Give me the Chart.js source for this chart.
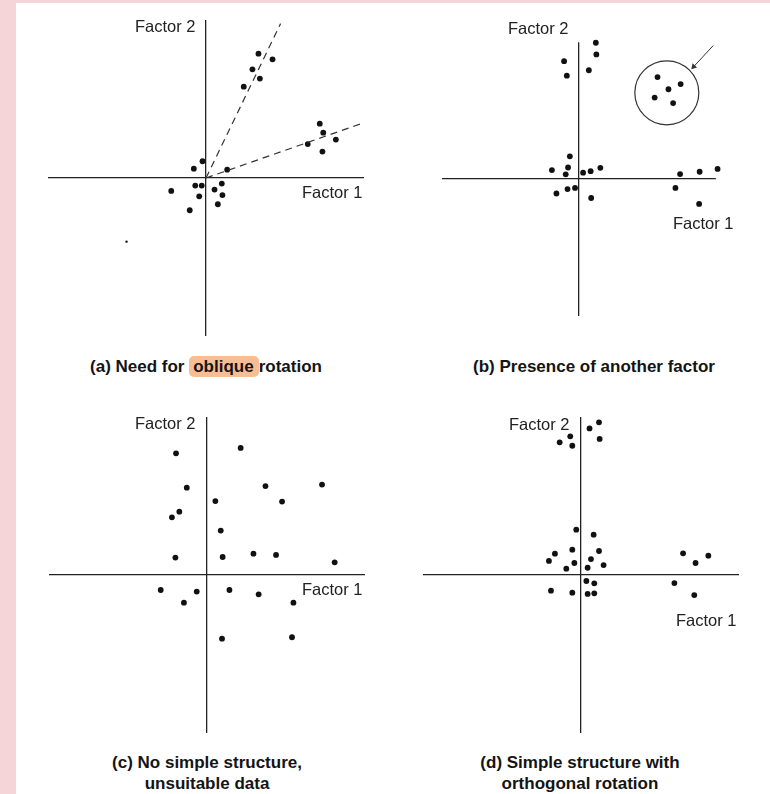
<!DOCTYPE html>
<html>
<head>
<meta charset="utf-8">
<script src="https://cdn.jsdelivr.net/npm/chart.js@4/dist/chart.umd.min.js"></script>
<style>
  body { margin: 0; width: 770px; height: 794px; background: #f5d5d8; position: relative; overflow: hidden; }
  #sheet { position: absolute; left: 16px; top: 3px; right: 0; bottom: 0; background: #fff; }
  canvas { position: absolute; }
  .lbl { position: absolute; font: 16.5px "Liberation Sans", Arial, sans-serif; color: #222; line-height: 18px; white-space: nowrap; }
  .cap { position: absolute; width: 300px; text-align: center; font: bold 17px "Liberation Sans", Arial, sans-serif; color: #141414; line-height: 21px; white-space: nowrap; }
  .hl { background: #f7be96; border-radius: 5px; padding: 1px 5px 1px 4px; }
</style>
</head>
<body>
<div id="sheet"></div>

<canvas id="chartA" width="340" height="340" style="left:36px;top:8px"></canvas>
<canvas id="chartB" width="340" height="340" style="left:409px;top:9px"></canvas>
<canvas id="chartC" width="340" height="340" style="left:37px;top:405px"></canvas>
<canvas id="chartD" width="340" height="340" style="left:411px;top:405px"></canvas>

<div class="lbl" style="left:135px;top:17px">Factor 2</div>
<div class="lbl" style="left:302px;top:183px">Factor 1</div>
<div class="lbl" style="left:508px;top:19px">Factor 2</div>
<div class="lbl" style="left:673px;top:214px">Factor 1</div>
<div class="lbl" style="left:135px;top:414px">Factor 2</div>
<div class="lbl" style="left:302px;top:580px">Factor 1</div>
<div class="lbl" style="left:509px;top:415px">Factor 2</div>
<div class="lbl" style="left:676px;top:611px">Factor 1</div>

<div class="cap" style="left:56px;top:356px">(a) Need for <span class="hl">oblique</span>rotation</div>
<div class="cap" style="left:444px;top:356px">(b) Presence of another factor</div>
<div class="cap" style="left:57px;top:752px">(c) No simple structure,<br>unsuitable data</div>
<div class="cap" style="left:430px;top:752px">(d) Simple structure with<br>orthogonal rotation</div>

<script>
// valeurs, axes de -10 a 10 (Factor 1 = x, Factor 2 = y)

// (a) besoin d'une rotation oblique
const aCluster1 = [[3.32,7.87],[4.21,7.51],[2.94,6.88],[3.41,6.29],[2.39,5.78]];
const aCluster2 = [[7.20,3.44],[7.42,2.87],[8.22,2.43],[6.44,2.15],[7.37,1.67]];
const aCentre = [[-0.22,1.06],[-0.77,0.59],[1.34,0.53],[-0.68,-0.48],[-0.27,-0.48],[1.00,-0.35],
                 [-2.20,-0.82],[0.54,-0.73],[-0.43,-1.16],[1.04,-1.08],[0.75,-1.66],[-1.03,-2.04]];
const aSpeck = [[-5.03,-4.03]];
const aObliqueAxis1 = [[0,0],[4.72,9.77]];
const aObliqueAxis2 = [[0,0],[10.03,3.51]];

// (b) presence d'un autre facteur
const bFactor2 = [[1.23,9.96],[1.27,9.11],[-1.09,8.61],[0.72,7.95],[-0.89,7.55]];
const bOther = [[5.74,7.45],[7.43,6.94],[6.54,6.56],[5.53,5.95],[6.88,5.55]];
const bCentre = [[-0.67,1.66],[-1.98,0.65],[-0.80,0.84],[-0.97,0.34],[0.30,0.46],[0.85,0.57],
                 [1.56,0.82],[-1.65,-1.06],[-0.84,-0.74],[-0.29,-0.65],[0.89,-1.39]];
const bFactor1 = [[7.39,0.36],[8.82,0.53],[10.13,0.74],[7.05,-0.65],[8.78,-1.82]];
const bCircle = [[6.42,6.30]];
const bArrow = [[9.81,9.75],[8.38,8.21]];

// (c) pas de structure simple
const cPoints = [[-1.96,7.70],[2.13,8.04],[-1.28,5.53],[3.70,5.63],[7.28,5.72],[0.53,4.68],[4.75,4.65],
                 [-1.75,4.01],[-2.22,3.65],[0.87,2.81],[-2.00,1.10],[0.99,1.14],[2.94,1.35],[4.37,1.27],
                 [8.08,0.80],[-2.93,-0.95],[-0.65,-1.05],[1.42,-0.95],[-1.46,-1.75],[3.27,-1.22],
                 [5.47,-1.75],[0.95,-4.03],[5.38,-3.94]];

// (d) structure simple, rotation orthogonale
const dFactor2 = [[1.14,9.66],[0.54,9.28],[-0.68,8.78],[1.18,8.61],[-1.35,8.40],[-0.55,8.18]];
const dCentre = [[-0.30,2.87],[0.80,2.55],[-0.55,1.60],[1.14,1.52],[-1.65,1.35],[0.63,1.01],
                 [-2.03,0.89],[-0.42,0.76],[1.43,0.63],[-0.93,0.40],[0.42,0.46],[0.34,-0.38],
                 [0.84,-0.53],[-1.90,-0.99],[-0.55,-1.12],[0.42,-1.20],[0.84,-1.16]];
const dFactor1 = [[6.46,1.37],[8.06,1.22],[7.25,0.76],[5.91,-0.51],[7.17,-1.27]];

const axisMin = -10;
const axisMax = 10;
const axisStep = 10;

const toXY = arr => arr.map(p => ({ x: p[0], y: p[1] }));

const dots = (arr, r) => ({
  type: 'scatter',
  data: toXY(arr),
  backgroundColor: '#111',
  borderWidth: 0,
  pointRadius: r || 2.9,
  pointHoverRadius: r || 2.9
});

const dashed = arr => ({
  type: 'line',
  data: toXY(arr),
  borderColor: '#333',
  borderWidth: 1.2,
  borderDash: [7, 5],
  pointRadius: 0,
  fill: false,
  tension: 0
});

const axisOpts = () => ({
  type: 'linear',
  min: axisMin,
  max: axisMax,
  ticks: { display: false, stepSize: axisStep },
  grid: {
    drawTicks: false,
    lineWidth: 1.3,
    color: ctx => (ctx.tick && ctx.tick.value === 0) ? '#222' : 'rgba(0,0,0,0)'
  },
  border: { display: false }
});

function makeChart(id, datasets) {
  return new Chart(document.getElementById(id), {
    type: 'scatter',
    data: { datasets: datasets },
    options: {
      responsive: false,
      animation: false,
      clip: false,
      layout: { padding: 12 },
      plugins: { legend: { display: false }, tooltip: { enabled: false } },
      scales: { x: axisOpts(), y: axisOpts() }
    }
  });
}

makeChart('chartA', [
  dashed(aObliqueAxis1),
  dashed(aObliqueAxis2),
  dots(aCluster1),
  dots(aCluster2),
  dots(aCentre),
  dots(aSpeck, 1.2)
]);

makeChart('chartB', [
  dots(bFactor2),
  dots(bOther),
  dots(bCentre),
  dots(bFactor1),
  {
    type: 'scatter',
    data: toXY(bCircle),
    pointStyle: 'circle',
    pointRadius: 32,
    pointHoverRadius: 32,
    backgroundColor: 'rgba(0,0,0,0)',
    borderColor: '#333',
    borderWidth: 1.2
  },
  {
    type: 'line',
    data: toXY(bArrow),
    borderColor: '#333',
    borderWidth: 1,
    pointStyle: 'triangle',
    pointRadius: [0, 3.5],
    pointRotation: 223,
    backgroundColor: '#333',
    pointBorderWidth: 0,
    fill: false
  }
]);

makeChart('chartC', [dots(cPoints)]);

makeChart('chartD', [
  dots(dFactor2),
  dots(dCentre),
  dots(dFactor1)
]);
</script>
</body>
</html>
